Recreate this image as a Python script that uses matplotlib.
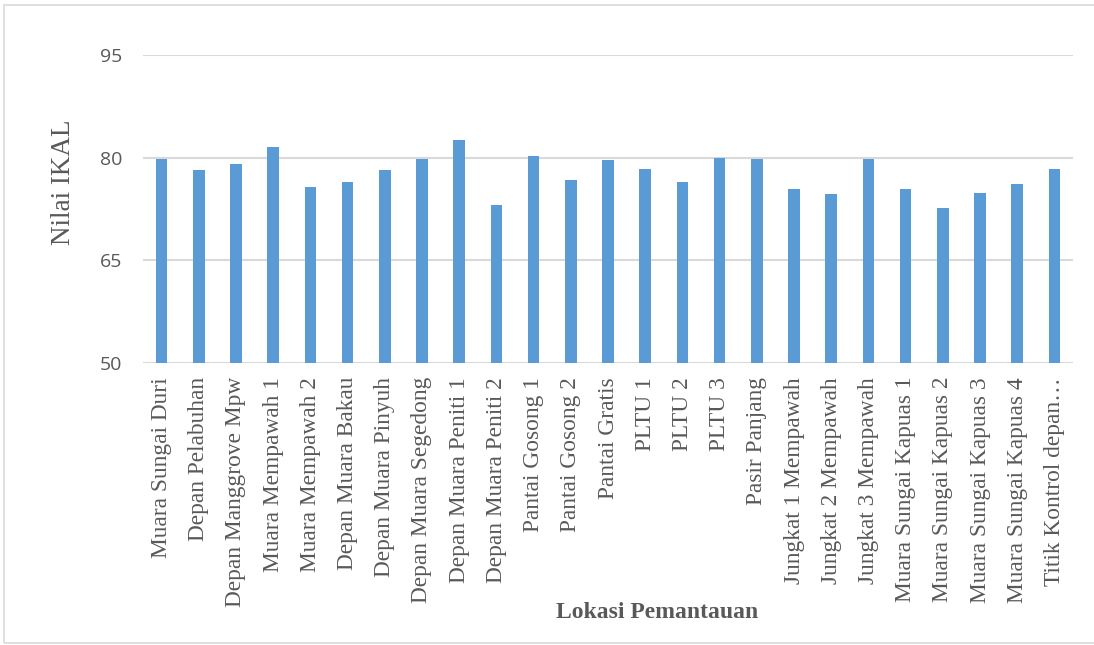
import matplotlib.pyplot as plt
from matplotlib.patches import Rectangle

lokasi = [
    "Muara Sungai Duri", "Depan Pelabuhan", "Depan Manggrove Mpw",
    "Muara Mempawah 1", "Muara Mempawah 2", "Depan Muara Bakau",
    "Depan Muara Pinyuh", "Depan Muara Segedong", "Depan Muara Peniti 1",
    "Depan Muara Peniti 2", "Pantai Gosong 1", "Pantai Gosong 2",
    "Pantai Gratis", "PLTU 1", "PLTU 2", "PLTU 3", "Pasir Panjang",
    "Jungkat 1 Mempawah", "Jungkat 2 Mempawah", "Jungkat 3 Mempawah",
    "Muara Sungai Kapuas 1", "Muara Sungai Kapuas 2", "Muara Sungai Kapuas 3",
    "Muara Sungai Kapuas 4", "Titik Kontrol depan\u2026",
]
nilai_ikal = [
    79.8, 78.2, 79.1, 81.5, 75.7, 76.4, 78.2, 79.8, 82.6, 73.1, 80.2, 76.8,
    79.7, 78.4, 76.4, 80.0, 79.8, 75.4, 74.7, 79.8, 75.4, 72.7, 74.9, 76.1,
    78.3,
]
yticks = [50, 65, 80, 95]

fig = plt.figure(figsize=(10.94, 6.45), dpi=100)
ax = fig.add_axes([143 / 1094, 1 - 363 / 645, 930 / 1094, 308 / 645])

# bingkai area grafik
fig.patches.append(Rectangle((4 / 1094, 2 / 645), 1.0, 638 / 645,
                             transform=fig.transFigure, fill=False,
                             edgecolor="#D9D9D9", linewidth=1.2))

x = range(len(lokasi))
ax.bar(x, nilai_ikal, width=0.31, color="#5B9BD5", zorder=3)

ax.set_ylim(50, 95)
ax.set_xlim(-0.5, len(lokasi) - 0.5)
ax.set_yticks(yticks)
ax.set_yticklabels([str(v) for v in yticks], fontsize=14, color="#595959",
                   family="Open Sans")
ax.yaxis.grid(True, color="#D9D9D9", linewidth=1.5, zorder=0)
for s in ax.spines.values():
    s.set_visible(False)
ax.tick_params(axis="both", length=0)
ax.tick_params(axis="y", pad=15)

ax.set_xticks(list(x))
ax.set_xticklabels(lokasi, rotation=90, fontsize=16.8, color="#595959",
                   family="Liberation Serif")
ax.tick_params(axis="x", pad=10)

fig.text(63 / 1094, 1 - 182 / 645, "Nilai IKAL", rotation=90, ha="center",
         va="center", fontsize=19.5, color="#595959", family="Liberation Serif")
fig.text(657 / 1094, 1 - 612 / 645, "Lokasi Pemantauan", ha="center",
         va="center", fontsize=17, fontweight="bold", color="#595959",
         family="Liberation Serif")

fig.savefig("out.png", dpi=100)
